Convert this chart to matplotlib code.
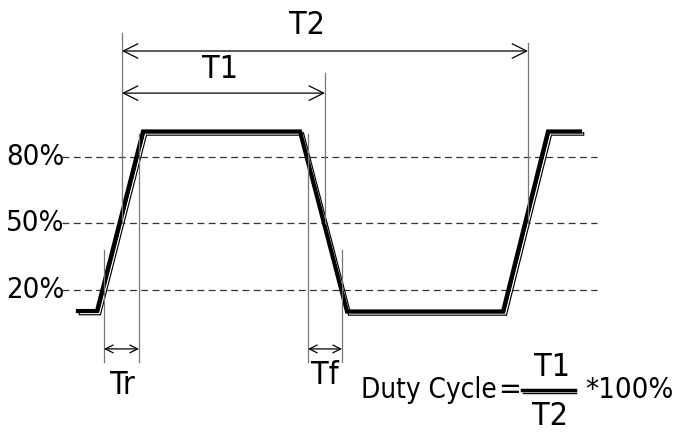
import matplotlib
matplotlib.use("Agg")
import matplotlib.pyplot as plt
import matplotlib.transforms as mtransforms

# waveform: time (px-like units) vs level (%)
t = [78, 97, 143, 300, 347, 503, 548, 580]
level = [10.5, 10.5, 91.5, 91.5, 10.3, 10.3, 91.5, 91.5]

ref_levels = [80, 50, 20]
ref_labels = ["80%", "50%", "20%"]

# interval markers (start, end)
t1 = (122, 325)
t2 = (122, 528)
tr = (104, 139)
tf = (308, 342)

plt.rcParams['font.family'] = ['DejaVu Sans']
plt.rcParams['font.stretch'] = 'condensed'

fig = plt.figure(figsize=(6.83, 4.32), dpi=100)
ax = fig.add_axes([0, 0, 1, 1])
ax.axis('off')
ax.set_xlim(0, 683)
# y in percent; 20% at px 290, 80% at px 157
ax.set_ylim((334.3 - 432) / 2.2167, 334.3 / 2.2167)

# reference levels
for lv, lab in zip(ref_levels, ref_labels):
    ax.plot([62, 597], [lv, lv], color='#333333', lw=0.9, dashes=(5.5, 3.5))
    ax.text(64, lv, lab, ha='right', va='center', fontsize=21)

# ghost double line under the main trace
ghost = mtransforms.offset_copy(ax.transData, fig=fig, x=2.5, y=-2.5, units='dots')
ax.plot(t, level, color='black', lw=2.6, transform=ghost, solid_joinstyle='miter')
ax.plot(t, level, color='white', lw=0.9, transform=ghost, solid_joinstyle='miter')
ax.plot(t, level, color='black', lw=3.0, solid_joinstyle='miter')

# extension lines
vc = '#777777'
ax.plot([t2[0], t2[0]], [50, 136], color=vc, lw=0.9)
ax.plot([t2[1], t2[1]], [50, 131.5], color=vc, lw=0.9)
ax.plot([t1[1], t1[1]], [50, 118], color=vc, lw=0.9)
ax.plot([tr[0], tr[0]], [-12.5, 38], color=vc, lw=0.9)
ax.plot([tr[1], tr[1]], [-12.5, 90.5], color=vc, lw=0.9)
ax.plot([tf[0], tf[0]], [-12.5, 90.5], color=vc, lw=0.9)
ax.plot([tf[1], tf[1]], [-12.5, 38], color=vc, lw=0.9)

def dim(a, b, y, ms):
    ax.annotate('', xy=(a, y), xytext=(b, y),
                arrowprops=dict(arrowstyle='<->', lw=0.9, color='black',
                                shrinkA=0, shrinkB=0, mutation_scale=ms))

dim(t2[0], t2[1], 127.8, 26)
dim(t1[0], t1[1], 108.8, 26)
dim(tr[0], tr[1], -6.6, 14)
dim(tf[0], tf[1], -6.6, 14)

ax.text(307, 139.5, "T2", ha='center', va='center', fontsize=23)
ax.text(220, 119.5, "T1", ha='center', va='center', fontsize=23)
ax.text(122, -23, "Tr", ha='center', va='center', fontsize=23)
ax.text(325, -18.5, "Tf", ha='center', va='center', fontsize=23)

# duty cycle formula
ax.text(361, -25, "Duty Cycle", ha='left', va='center', fontsize=20)
ax.text(510, -25, "=", ha='center', va='center', fontsize=22)
ax.plot([522, 575], [-25.3, -25.3], color='black', lw=2.5)
ax.plot([523, 576], [-26.4, -26.4], color='black', lw=1.0)
ax.text(552, -15, "T1", ha='center', va='center', fontsize=23)
ax.text(550, -37, "T2", ha='center', va='center', fontsize=23)
ax.text(585, -25, "*100%", ha='left', va='center', fontsize=21)

fig.savefig("out.png", dpi=100)
